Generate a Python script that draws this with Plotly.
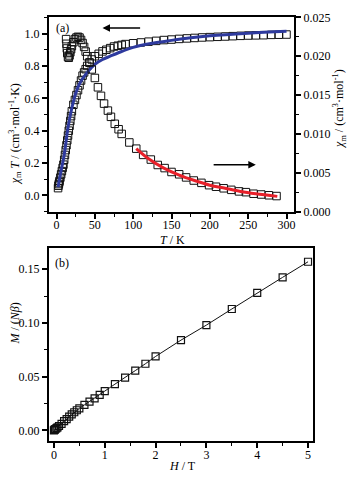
import plotly.graph_objects as go

# ---------------- Panel (a) data ----------------
T_chiT = [2, 2.5, 3, 3.5, 4, 5, 6, 7, 8, 9, 10, 11, 12, 13, 14, 15, 16, 17, 18, 19,
          20, 22, 24, 26, 28, 30, 32, 34, 36, 38, 40, 43, 46, 50, 55, 60, 65, 70, 75,
          80, 85, 90, 100, 110, 120, 130, 140, 150, 160, 170, 180, 190, 200, 210, 220,
          230, 240, 250, 260, 270, 280, 290, 300]
chiT = [0.045, 0.06, 0.07, 0.08, 0.09, 0.11, 0.13, 0.15, 0.17, 0.19, 0.22, 0.25, 0.28,
        0.31, 0.34, 0.37, 0.40, 0.43, 0.46, 0.49, 0.52, 0.56, 0.59, 0.62, 0.65, 0.68,
        0.71, 0.74, 0.76, 0.78, 0.80, 0.82, 0.84, 0.86, 0.875, 0.89, 0.90, 0.91, 0.92,
        0.925, 0.93, 0.935, 0.94, 0.945, 0.95, 0.955, 0.96, 0.963, 0.967, 0.97, 0.973,
        0.976, 0.978, 0.98, 0.982, 0.984, 0.986, 0.988, 0.989, 0.99, 0.992, 0.993, 0.994]

T_fitT = [2, 5, 10, 15, 20, 25, 30, 40, 50, 60, 70, 80, 100, 125, 150, 175, 200, 250, 300]
fitT = [0.05, 0.13, 0.25, 0.42, 0.54, 0.63, 0.69, 0.76, 0.81, 0.84, 0.86, 0.88, 0.915,
        0.94, 0.958, 0.974, 0.986, 1.002, 1.014]

T_chi = [12.5, 13, 13.5, 14, 15, 16, 17, 18, 19, 20, 22, 24, 26, 28, 30, 32, 34, 36, 38,
         40, 43, 46, 50, 54, 58, 62, 67, 71, 76, 81, 85, 95, 104, 113, 123, 132, 141, 150,
         160, 169, 179, 189, 199, 208, 218, 228, 238, 247, 257, 267, 277, 287]
chi = [0.0222, 0.0216, 0.0210, 0.0204, 0.0199, 0.0198, 0.0201, 0.0205, 0.0209, 0.0213,
       0.0218, 0.0222, 0.0224, 0.0225, 0.0224, 0.0221, 0.0217, 0.0212, 0.0206, 0.0200,
       0.0192, 0.0183, 0.0172, 0.0160, 0.0149, 0.0139, 0.0130, 0.0122, 0.0113, 0.0106,
       0.0100, 0.0089, 0.0081, 0.0073, 0.0067, 0.0060, 0.0056, 0.0051, 0.0048, 0.0044,
       0.0040, 0.0037, 0.0034, 0.0032, 0.0030, 0.0028, 0.0026, 0.0025, 0.0023, 0.0022,
       0.0021, 0.0020]

T_fitchi = [104, 120, 140, 160, 180, 200, 220, 240, 260, 288]
fitchi = [0.0081, 0.0068, 0.0056, 0.0047, 0.0040, 0.0034, 0.0030, 0.0026, 0.0023, 0.00196]

# ---------------- Panel (b) data ----------------
H = [0, 0.01, 0.02, 0.03, 0.05, 0.07, 0.1, 0.15, 0.2, 0.25, 0.3, 0.35, 0.4, 0.45, 0.5,
     0.6, 0.7, 0.8, 0.9, 1.0, 1.2, 1.4, 1.6, 1.8, 2.0, 2.5, 3.0, 3.5, 4.0, 4.5, 5.0]
M = [0, 0.0004, 0.0008, 0.0012, 0.002, 0.0028, 0.004, 0.006, 0.0085, 0.0105, 0.0128,
     0.0148, 0.0168, 0.0187, 0.0205, 0.0237, 0.0267, 0.0297, 0.033, 0.0365, 0.043, 0.049,
     0.0556, 0.062, 0.0688, 0.084, 0.098, 0.113, 0.128, 0.1425, 0.157]

W, Hpx = 356, 483
SERIF = "Liberation Serif"
sq = dict(symbol="square-open", size=7.5, color="#111", line=dict(width=1, color="#111"))

fig = go.Figure()
fig.add_trace(go.Scatter(x=T_chiT, y=chiT, mode="markers", marker=sq,
                         xaxis="x", yaxis="y", showlegend=False))
fig.add_trace(go.Scatter(x=T_fitT, y=fitT, mode="lines", line=dict(color="#2e3a9e", width=3, shape="spline"),
                         xaxis="x", yaxis="y", showlegend=False))
fig.add_trace(go.Scatter(x=T_chi, y=chi, mode="markers", marker=sq,
                         xaxis="x", yaxis="y2", showlegend=False))
fig.add_trace(go.Scatter(x=T_fitchi, y=fitchi, mode="lines", line=dict(color="#e8202a", width=3, shape="spline"),
                         xaxis="x", yaxis="y2", showlegend=False))
fig.add_trace(go.Scatter(x=H, y=M, mode="lines+markers",
                         marker=dict(symbol="square-open", size=7, color="#111", line=dict(width=1.2, color="#111")),
                         line=dict(color="#111", width=1),
                         xaxis="x3", yaxis="y3", showlegend=False))

def ax(**kw):
    base = dict(showgrid=False, zeroline=False, showline=True, linecolor="black", linewidth=2,
                ticks="outside", ticklen=5, tickwidth=1.5, tickcolor="black",
                tickfont=dict(family=SERIF, size=12, color="black"))
    base.update(kw)
    return base

minor = lambda d: dict(dtick=d, ticks="outside", ticklen=3, tickwidth=1.2, tickcolor="black", showgrid=False)

fa = [49 / W, 295 / W]
fb = [49 / W, 314 / W]
ya = [1 - 210.7 / Hpx, 1 - 10.7 / Hpx]
yb = [1 - 447 / Hpx, 1 - 248 / Hpx]

fig.update_layout(
    width=W, height=Hpx, autosize=False,
    margin=dict(l=0, r=0, t=0, b=0),
    paper_bgcolor="white", plot_bgcolor="white",
    font=dict(family=SERIF, size=12, color="black"),
    xaxis=ax(domain=fa, anchor="y", range=[-10, 310], tick0=0, dtick=50, mirror=True,
             minor=minor(25), ticklabelstandoff=-4),
    yaxis=ax(domain=ya, anchor="x", range=[-0.1, 1.1], tick0=0, dtick=0.2, tickformat=".1f",
             mirror=True, minor=minor(0.1)),
    yaxis2=ax(overlaying="y", side="right", anchor="x", range=[0, 0.025], tick0=0, dtick=0.005,
              tickformat=".3f", minor=minor(0.0025)),
    xaxis3=ax(domain=fb, anchor="y3", range=[-0.1, 5.1], tick0=0, dtick=1, mirror=True,
              minor=minor(0.5), ticklabelstandoff=-3),
    yaxis3=ax(domain=yb, anchor="x3", range=[-0.01, 0.17], tick0=0, dtick=0.05, tickformat=".2f",
              mirror=True, minor=minor(0.025)),
)

tf = dict(family=SERIF, size=12, color="black")
def lab(text, x, y, angle=0):
    fig.add_annotation(text=text, xref="paper", yref="paper", x=x / W, y=1 - y / Hpx,
                       showarrow=False, textangle=angle, font=tf, xanchor="center", yanchor="middle")

lab("<i>χ</i><sub>m</sub> <i>T</i> / (cm<sup>3</sup>·mol<sup>-1</sup>·K)", 15, 130, -90)
lab("<i>χ</i><sub>m</sub> / (cm<sup>3</sup>·mol<sup>-1</sup>)", 341, 105, -90)
lab("<i>T</i> / K", 173, 240)
lab("<i>M</i> / (<i>Nβ</i>)", 15, 326, -90)
lab("<i>H</i> / T", 183, 473)
lab("(a)", 63, 22)
lab("(b)", 62, 264)

# arrows (decorations)
fig.add_annotation(x=60, y=1.034, ax=111, ay=1.034, xref="x", yref="y", axref="x", ayref="y",
                   showarrow=True, arrowhead=2, arrowsize=1, arrowwidth=1.5, arrowcolor="black", text="")
fig.add_annotation(x=260, y=0.19, ax=203, ay=0.19, xref="x", yref="y", axref="x", ayref="y",
                   showarrow=True, arrowhead=2, arrowsize=1, arrowwidth=1.5, arrowcolor="black", text="")

fig.write_html("out.html", config={"displayModeBar": False},
               post_script="document.body.style.margin='0';document.body.style.overflow='hidden';")
